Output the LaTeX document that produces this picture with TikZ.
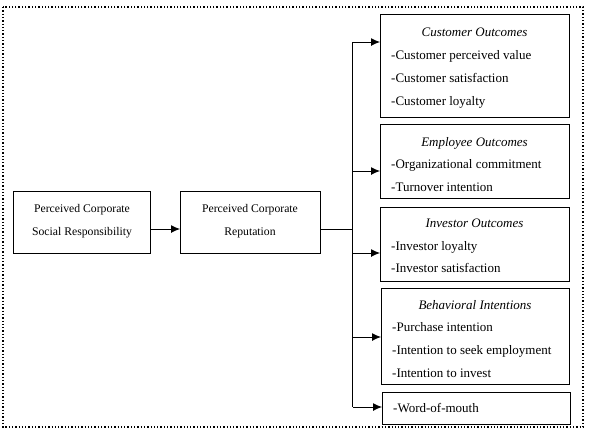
\documentclass[tikz,border=0pt]{standalone}
\usepackage{fontspec}
\setmainfont{Liberation Serif}
\usetikzlibrary{arrows.meta}
\begin{document}
\begin{tikzpicture}[x=1pt,y=-1pt,
  box/.style={draw,line width=0.9pt,inner sep=0,anchor=north west},
  txt/.style={inner sep=0,anchor=west,font=\fontsize{13}{15}\selectfont,text height=9pt,text depth=3pt},
  ttl/.style={txt,anchor=center,font=\fontsize{13}{15}\selectfont\itshape},
  ctr/.style={inner sep=0,align=center,font=\fontsize{11.7}{23}\selectfont},
  conn/.style={line width=0.9pt},
  arr/.style={line width=0.9pt,-{Latex[length=9pt,width=8pt]}}]
\useasboundingbox (0,0) rectangle (589,437);
\draw[line width=1.3pt,dotted] (3,7) rectangle (583,427);
% left boxes
\node[box,minimum width=137pt,minimum height=62pt] (A) at (13,191) {};
\node[ctr] (Atext) at (82,221) {Perceived Corporate\\Social Responsibility};
\node[box,minimum width=140pt,minimum height=62pt] (B) at (180,191) {};
\node[ctr] (Btext) at (250,221) {Perceived Corporate\\Reputation};
% right boxes
\node[box,minimum width=189pt,minimum height=103pt] (C) at (380,14) {};
\node[ttl] (Ct) at (474.5,33) {Customer Outcomes};
\node[txt] (C1) at (391,56) {-Customer perceived value};
\node[txt] (C2) at (391,79) {-Customer satisfaction};
\node[txt] (C3) at (391,102) {-Customer loyalty};
\node[box,minimum width=189pt,minimum height=74pt] (E) at (380,124) {};
\node[ttl] (Et) at (474.5,143) {Employee Outcomes};
\node[txt] (E1) at (391,165) {-Organizational commitment};
\node[txt] (E2) at (391,188) {-Turnover intention};
\node[box,minimum width=189pt,minimum height=74pt] (I) at (380,207) {};
\node[ttl] (It) at (474.5,224) {Investor Outcomes};
\node[txt] (I1) at (391,247) {-Investor loyalty};
\node[txt] (I2) at (391,269) {-Investor satisfaction};
\node[box,minimum width=188pt,minimum height=96pt] (Bh) at (381,288) {};
\node[ttl] (Bt) at (475,306) {Behavioral Intentions};
\node[txt] (B1) at (392,328) {-Purchase intention};
\node[txt] (B2) at (392,351) {-Intention to seek employment};
\node[txt] (B3) at (392,374) {-Intention to invest};
\node[box,minimum width=188pt,minimum height=32pt] (W) at (382,392) {};
\node[txt] (W1) at (393,409) {-Word-of-mouth};
% connectors
\coordinate (ab) at (0,229);
\coordinate (t1) at (352.6,42);
\coordinate (t2) at (352.6,407);
\coordinate (te) at (352.6,171);
\coordinate (ti) at (352.6,253);
\coordinate (tb) at (352.6,337);
\draw[arr] (A.east |- ab) -- (B.west |- ab);
\draw[conn] (B.east |- ab) -- (ab -| t1);
\draw[conn] (t1) -- (t2);
\draw[arr] (t1) -- (C.west |- t1);
\draw[arr] (te) -- (E.west |- te);
\draw[arr] (ti) -- (I.west |- ti);
\draw[arr] (tb) -- (Bh.west |- tb);
\draw[arr] (t2) -- (W.west |- t2);
\end{tikzpicture}
\end{document}
